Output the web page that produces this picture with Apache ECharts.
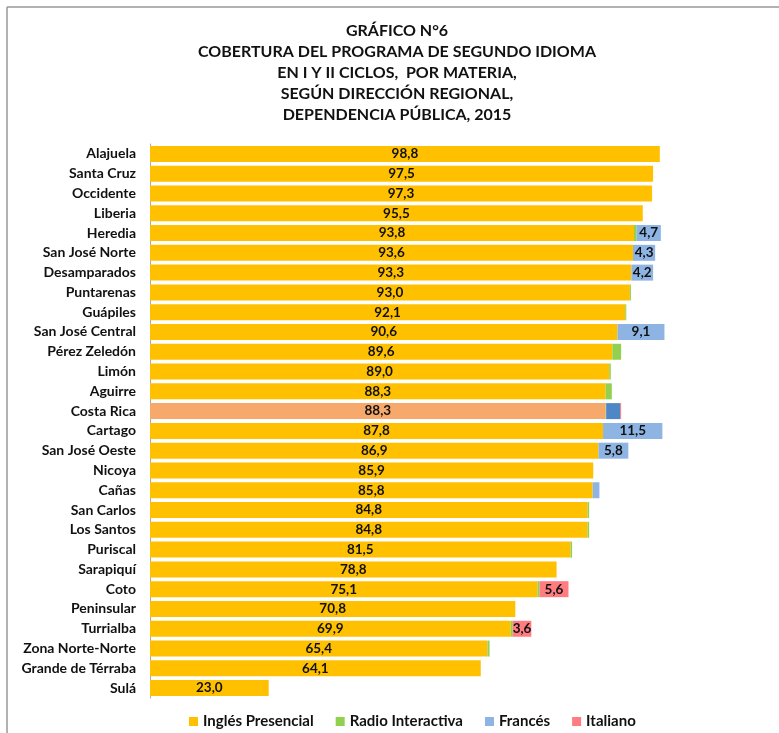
<!DOCTYPE html>
<html>
<head>
<meta charset="utf-8">
<script src="https://cdn.jsdelivr.net/npm/echarts@6/dist/echarts.min.js"></script>
<style>
  html, body { margin: 0; padding: 0; background: #fff; }
  #main { width: 779px; height: 733px; }
</style>
</head>
<body>
<div id="main"></div>
<script>
// datos del gráfico
var regiones = ['Alajuela', 'Santa Cruz', 'Occidente', 'Liberia', 'Heredia', 'San José Norte',
  'Desamparados', 'Puntarenas', 'Guápiles', 'San José Central', 'Pérez Zeledón', 'Limón',
  'Aguirre', 'Costa Rica', 'Cartago', 'San José Oeste', 'Nicoya', 'Cañas', 'San Carlos',
  'Los Santos', 'Puriscal', 'Sarapiquí', 'Coto', 'Peninsular', 'Turrialba',
  'Zona Norte-Norte', 'Grande de Térraba', 'Sulá'];
var ingles = [98.8, 97.5, 97.3, 95.5, 93.8, 93.6, 93.3, 93.0, 92.1, 90.6, 89.6, 89.0, 88.3, 88.3,
  87.8, 86.9, 85.9, 85.8, 84.8, 84.8, 81.5, 78.8, 75.1, 70.8, 69.9, 65.4, 64.1, 23.0];
var radio = [0, 0, 0, 0, 0.5, 0, 0, 0.2, 0.2, 0, 1.7, 0.3, 1.2, 0.1,
  0, 0, 0, 0, 0.3, 0.3, 0.3, 0, 0.4, 0, 0.4, 0.4, 0, 0];
var frances = [0, 0, 0, 0, 4.7, 4.3, 4.2, 0, 0, 9.1, 0, 0, 0, 2.7,
  11.5, 5.8, 0, 1.3, 0, 0, 0, 0, 0, 0, 0, 0, 0, 0];
var italiano = [0, 0, 0, 0, 0, 0, 0, 0, 0, 0, 0, 0, 0, 0.2,
  0, 0, 0, 0, 0, 0, 0, 0, 5.6, 0, 3.6, 0, 0, 0];

var myChart = echarts.init(document.getElementById('main'));
var fuente = 'Lato';

// la fila de Costa Rica lleva otros colores
function conColor(valores, colorCR) {
  return valores.map(function (v, i) {
    if (regiones[i] === 'Costa Rica' && colorCR) {
      return { value: v, itemStyle: { color: colorCR } };
    }
    return v;
  });
}

function etiqueta(p) {
  return p.value >= 3 ? p.value.toFixed(1).replace('.', ',') : '';
}

var lbl = {
  show: true,
  position: 'inside',
  formatter: etiqueta,
  color: '#111',
  fontFamily: fuente,
  fontWeight: 'bold',
  fontSize: 13.5
};

function serie(nombre, valores, color, colorCR) {
  return {
    name: nombre,
    type: 'bar',
    stack: 'total',
    barWidth: 16,
    itemStyle: { color: color },
    label: lbl,
    data: conColor(valores, colorCR)
  };
}

myChart.setOption({
  animation: false,
  backgroundColor: '#fff',
  graphic: [
    {
      type: 'text', x: 397, y: 20,
      style: {
        text: 'GRÁFICO N°6\nCOBERTURA DEL PROGRAMA DE SEGUNDO IDIOMA\nEN I Y II CICLOS,  POR MATERIA,\nSEGÚN DIRECCIÓN REGIONAL,\nDEPENDENCIA PÚBLICA, 2015',
        align: 'center',
        font: 'bold 16px ' + fuente,
        lineHeight: 21,
        fill: '#111'
      }
    },
    { type: 'line', shape: { x1: 7, y1: 7, x2: 779, y2: 7 }, style: { stroke: '#999', lineWidth: 1.5 } },
    { type: 'line', shape: { x1: 7, y1: 7, x2: 7, y2: 733 }, style: { stroke: '#999', lineWidth: 1.5 } }
  ],
  grid: { left: 150, right: 113, top: 144, bottom: 35 },
  legend: {
    left: 184,
    top: 709,
    icon: 'rect',
    itemWidth: 9,
    itemHeight: 9,
    itemGap: 22,
    textStyle: { fontFamily: fuente, fontWeight: 'bold', fontSize: 15, color: '#111' },
    data: ['Inglés Presencial', 'Radio Interactiva', 'Francés', 'Italiano']
  },
  xAxis: {
    type: 'value',
    min: 0,
    max: 100,
    show: false
  },
  yAxis: {
    type: 'category',
    inverse: true,
    data: regiones,
    axisLine: { show: true, lineStyle: { color: '#aaa', width: 1 } },
    axisTick: { show: false },
    axisLabel: {
      margin: 14,
      fontFamily: fuente,
      fontWeight: 'bold',
      fontSize: 14,
      color: '#111'
    }
  },
  series: [
    serie('Inglés Presencial', ingles, '#FFC000', '#F7A96C'),
    serie('Radio Interactiva', radio, '#92D050'),
    serie('Francés', frances, '#8EB4E3', '#4F86C6'),
    serie('Italiano', italiano, '#FF7C80')
  ]
});
</script>
</body>
</html>
